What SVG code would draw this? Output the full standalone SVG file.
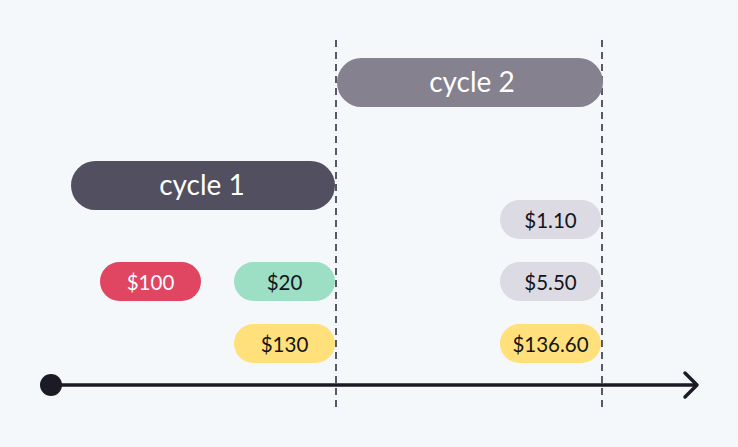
<svg xmlns="http://www.w3.org/2000/svg" width="738" height="447" viewBox="0 0 738 447">
<style>
text{font-family:Lato,"Open Sans","Liberation Sans",sans-serif;text-anchor:middle;dominant-baseline:central}
.big{font-size:28px;fill:#fff}
.sm{font-size:20.5px;fill:#15141c}
.dash{stroke:#5a5866;stroke-width:2;stroke-dasharray:7,5;fill:none}
</style>
<rect width="738" height="447" fill="#f5f8fb"/>
<g id="connectors">
<line class="dash" x1="336" y1="40" x2="336" y2="408"/>
<line class="dash" x1="602" y1="40" x2="602" y2="408"/>
<line x1="51" y1="385" x2="697" y2="385" stroke="#1b1a25" stroke-width="3.5"/>
<polyline points="685,373 697,385 685,397" fill="none" stroke="#1b1a25" stroke-width="3.5" stroke-linecap="round" stroke-linejoin="round"/>
<circle cx="51" cy="385" r="11" fill="#1b1a25"/>
</g>
<g id="cycle2"><rect x="337" y="58" width="266" height="49" rx="24.5" fill="#85818f"/><text class="big" x="472" y="81">cycle 2</text></g>
<g id="cycle1"><rect x="71" y="161" width="264" height="49" rx="24.5" fill="#524f60"/><text class="big" x="202" y="184">cycle 1</text></g>
<g id="p100"><rect x="100" y="262" width="101" height="39" rx="19.5" fill="#e04562"/><text class="sm" x="150.5" y="282" style="fill:#fff">$100</text></g>
<g id="p20"><rect x="234" y="262" width="101" height="39" rx="19.5" fill="#9ddfc4"/><text class="sm" x="284.5" y="282">$20</text></g>
<g id="p130"><rect x="234" y="324" width="101" height="39" rx="19.5" fill="#ffe07a"/><text class="sm" x="284.5" y="344">$130</text></g>
<g id="p110"><rect x="500" y="200" width="101" height="39" rx="19.5" fill="#dcdae2"/><text class="sm" x="550.5" y="220">$1.10</text></g>
<g id="p550"><rect x="500" y="262" width="101" height="39" rx="19.5" fill="#dcdae2"/><text class="sm" x="550.5" y="282">$5.50</text></g>
<g id="p13660"><rect x="500" y="324" width="101" height="39" rx="19.5" fill="#ffe07a"/><text class="sm" x="550.5" y="344">$136.60</text></g>
</svg>
